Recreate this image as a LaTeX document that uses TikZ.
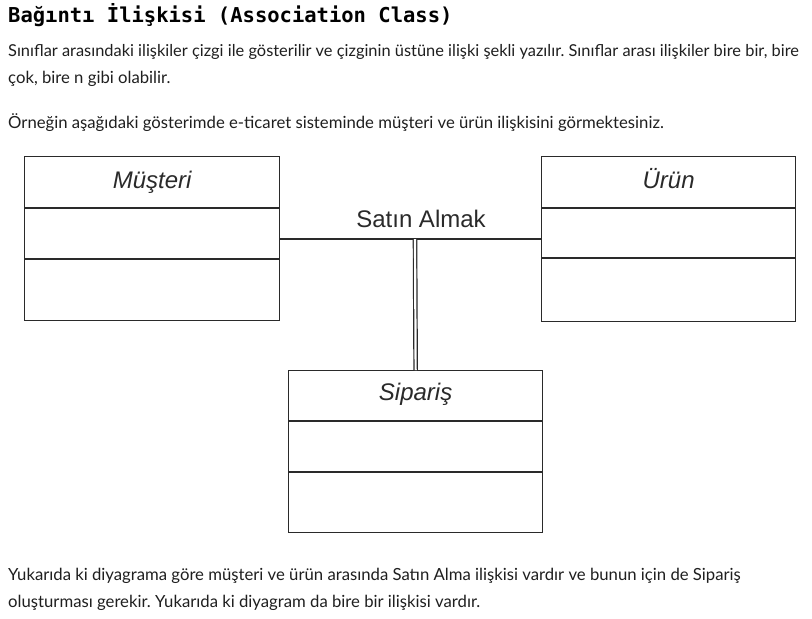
\documentclass[tikz,border=0pt]{standalone}
\usepackage{fontspec}
\usepackage{xcolor}
\usepackage{tikz}
\setmainfont{Lato}
\newfontfamily\titlefont{DejaVu Sans Mono}
\newfontfamily\umlfont{Liberation Sans}
\definecolor{inkgray}{HTML}{2A2A2A}
\definecolor{bodytext}{HTML}{1F1F1F}
\frenchspacing

\tikzset{
  classbox/.style={draw=inkgray, line width=1.3pt, anchor=north west, inner sep=0pt},
  classname/.style={anchor=base, inner sep=0pt, text=inkgray, font=\umlfont\itshape\fontsize{24}{28}\selectfont},
  bodyline/.style={anchor=base west, inner sep=0pt, text=bodytext, font=\fontsize{16.7}{19}\selectfont},
  divider/.style={draw=inkgray, line width=1.3pt},
}

\begin{document}
\begin{tikzpicture}[x=1pt,y=1pt,yscale=-1,xscale=1]
\useasboundingbox[fill=white] (0,0) rectangle (812,619);

% heading and text above
\node[anchor=base west, inner sep=0pt] (title) at (8,22) {\titlefont\bfseries\fontsize{20.5}{24}\selectfont Bağıntı İlişkisi (Association Class)};
\node[bodyline, font=\fontsize{16.4}{19}\selectfont] (intro1) at (8,56) {Sınıflar arasındaki ilişkiler çizgi ile gösterilir ve çizginin üstüne ilişki şekli yazılır. Sınıflar arası ilişkiler bire bir, bire};
\node[bodyline] (intro2) at (8,83) {çok, bire n gibi olabilir.};
\node[bodyline] (intro3) at (8,128) {Örneğin aşağıdaki gösterimde e-ticaret sisteminde müşteri ve ürün ilişkisini görmektesiniz.};

% classes
\node[classbox, minimum width=255pt, minimum height=164pt] (musteri) at (24,156) {};
\draw[divider] ([yshift=52pt]musteri.north west) -- ([yshift=52pt]musteri.north east);
\draw[divider] ([yshift=103pt]musteri.north west) -- ([yshift=103pt]musteri.north east);
\node[classname] (musteriname) at ([yshift=32pt]musteri.north) {Müşteri};

\node[classbox, minimum width=254pt, minimum height=165pt] (urun) at (541,156) {};
\draw[divider] ([yshift=52pt]urun.north west) -- ([yshift=52pt]urun.north east);
\draw[divider] ([yshift=102pt]urun.north west) -- ([yshift=102pt]urun.north east);
\node[classname] (urunname) at ([yshift=32pt]urun.north) {Ürün};

\node[classbox, minimum width=254pt, minimum height=162pt] (siparis) at (288,370) {};
\draw[divider] ([yshift=51pt]siparis.north west) -- ([yshift=51pt]siparis.north east);
\draw[divider] ([yshift=102pt]siparis.north west) -- ([yshift=102pt]siparis.north east);
\node[classname] (siparisname) at ([yshift=30pt]siparis.north) {Sipariş};

% association
\coordinate (join) at (415,239);
\draw[divider] (musteri.east |- join) -- (urun.west |- join);
\draw[draw=inkgray, line width=1.2pt, double, double distance=2.2pt] (join) -- (siparis.north);
\node[anchor=base, inner sep=0pt, text=inkgray, font=\umlfont\fontsize{24}{28}\selectfont] (assocname) at (421,227) {Satın Almak};

% text below
\node[bodyline] (outro1) at (8,580) {Yukarıda ki diyagrama göre müşteri ve ürün arasında Satın Alma ilişkisi vardır ve bunun için de Sipariş};
\node[bodyline] (outro2) at (8,607) {oluşturması gerekir. Yukarıda ki diyagram da bire bir ilişkisi vardır.};
\end{tikzpicture}
\end{document}
